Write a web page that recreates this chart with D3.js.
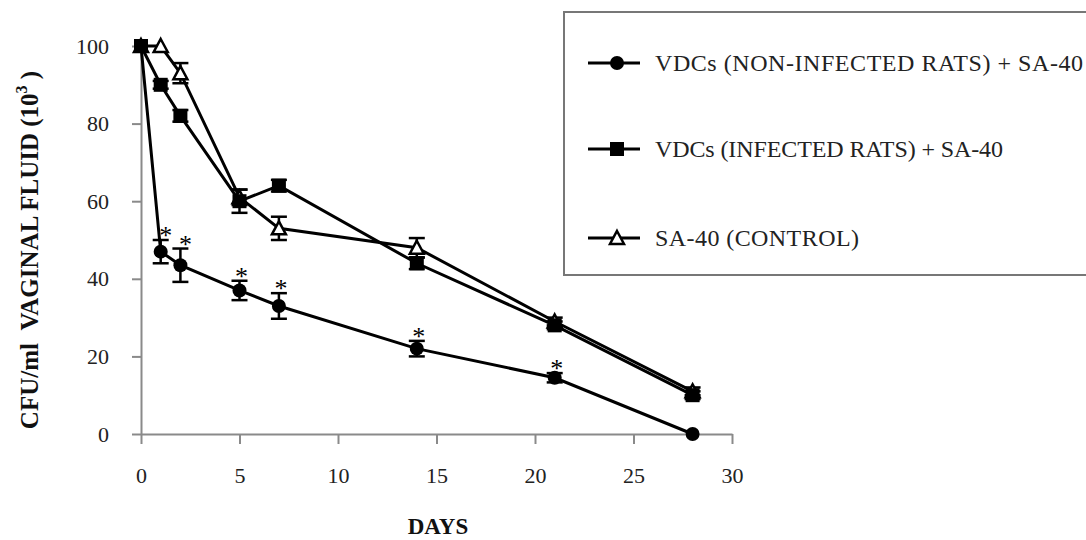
<!DOCTYPE html>
<html>
<head>
<meta charset="utf-8">
<script src="https://cdn.jsdelivr.net/npm/d3@7"></script>
<style>
  body { margin: 0; background: #fff; }
</style>
</head>
<body>
<div id="chart"></div>
<script>
// Data
const days = [0, 1, 2, 5, 7, 14, 21, 28];
const nonInfected = [100, 47, 43.5, 37, 33, 22, 14.5, 0];
const nonInfectedErr = [0, 3, 4.3, 2.5, 3.3, 2, 1.2, 0];
const infected = [100, 90, 82, 60, 64, 44, 28, 10];
const infectedErr = [0, 1, 1.5, 3, 1.5, 1.5, 1, 1];
const control = [100, 100, 93, 61, 53, 48, 29, 11];
const controlErr = [0, 0, 2.6, 2, 3, 2.5, 1, 1];
const starDays = [1, 2, 5, 7, 14, 21];
const xTicks = [0, 5, 10, 15, 20, 25, 30];
const yTicks = [0, 20, 40, 60, 80, 100];
const legendLabels = ["VDCs (NON-INFECTED RATS) + SA-40", "VDCs (INFECTED RATS) + SA-40", "SA-40 (CONTROL)"];

const fullWidth = 1086, fullHeight = 540;
const serif = "Liberation Serif";

const svg = d3.select("#chart")
    .append("svg")
    .attr("width", fullWidth)
    .attr("height", fullHeight);

// Scales
const x = d3.scaleLinear().domain([0, 30]).range([141, 732]);
const y = d3.scaleLinear().domain([0, 100]).range([434, 46]);

// Axes
const xAxis = svg.append("g")
    .attr("transform", "translate(0,434)")
    .call(d3.axisBottom(x).tickValues(xTicks).tickSize(10).tickPadding(32).tickSizeOuter(0));
const yAxis = svg.append("g")
    .attr("transform", "translate(141,0)")
    .call(d3.axisLeft(y).tickValues(yTicks).tickSize(9).tickPadding(23).tickSizeOuter(0));

[xAxis, yAxis].forEach(a => {
    a.attr("font-size", 22);
    a.selectAll("path, line").attr("stroke", "#8a8a8a").attr("stroke-width", 2);
    a.selectAll("text").attr("fill", "#222");
});
xAxis.selectAll("text").attr("dy", "0.33em");

// Axis titles
svg.append("text")
    .attr("x", 438)
    .attr("y", 534)
    .attr("text-anchor", "middle")
    .attr("font-weight", "bold")
    .attr("font-size", 23)
    .attr("fill", "#111")
    .text("DAYS");

const yTitle = svg.append("text")
    .attr("transform", "translate(38,250) rotate(-90)")
    .attr("text-anchor", "middle")
    .attr("font-weight", "bold")
    .attr("font-size", 25)
    .attr("fill", "#111");
yTitle.append("tspan").text("CFU/ml\u00a0\u00a0VAGINAL FLUID (10");
yTitle.append("tspan").attr("dy", -11).attr("font-size", 16).text("3");
yTitle.append("tspan").attr("dy", 11).text("\u00a0)");

// Series
const series = [
    { key: "nonInfected", values: nonInfected, err: nonInfectedErr, marker: "circle" },
    { key: "infected", values: infected, err: infectedErr, marker: "square" },
    { key: "control", values: control, err: controlErr, marker: "triangle" }
];

const line = d3.line()
    .x(d => x(d.day))
    .y(d => y(d.value));

series.forEach(s => {
    s.points = days.map((d, i) => ({ day: d, value: s.values[i], err: s.err[i] }));
});

// Lines
svg.selectAll(".series-line")
    .data(series)
    .join("path")
    .attr("class", "series-line")
    .attr("fill", "none")
    .attr("stroke", "#000")
    .attr("stroke-width", 3)
    .attr("d", d => line(d.points));

// Error bars
series.forEach(s => {
    const g = svg.append("g").attr("stroke", "#000").attr("stroke-width", 2.5);
    s.points.filter(p => p.err > 0).forEach(p => {
        const cx = x(p.day);
        g.append("line").attr("x1", cx).attr("x2", cx)
            .attr("y1", y(p.value - p.err)).attr("y2", y(p.value + p.err));
        [p.value - p.err, p.value + p.err].forEach(v => {
            g.append("line").attr("x1", cx - 8).attr("x2", cx + 8)
                .attr("y1", y(v)).attr("y2", y(v));
        });
    });
});

// Markers
function drawMarker(g, type, cx, cy) {
    if (type === "circle") {
        g.append("circle").attr("cx", cx).attr("cy", cy).attr("r", 7).attr("fill", "#000");
    } else if (type === "square") {
        g.append("rect").attr("x", cx - 7).attr("y", cy - 7)
            .attr("width", 14).attr("height", 14).attr("fill", "#000");
    } else {
        g.append("path")
            .attr("d", `M${cx},${cy - 7}L${cx + 7},${cy + 6}L${cx - 7},${cy + 6}Z`)
            .attr("fill", "#fff").attr("stroke", "#000").attr("stroke-width", 2.5);
    }
}

["circle", "triangle", "square"].forEach(type => {
    const s = series.find(d => d.marker === type);
    const g = svg.append("g");
    s.points.forEach(p => drawMarker(g, type, x(p.day), y(p.value)));
});

// Significance asterisks
svg.selectAll(".star")
    .data(starDays)
    .join("text")
    .attr("class", "star")
    .attr("x", d => x(d) + (d <= 2 ? 5 : 2))
    .attr("y", d => {
        const i = days.indexOf(d);
        return y(nonInfected[i] + nonInfectedErr[i]) + 4;
    })
    .attr("text-anchor", "middle")
    .attr("font-size", 26)
    .text("*");

// Legend
svg.append("rect")
    .attr("x", 564)
    .attr("y", 12)
    .attr("width", 540)
    .attr("height", 263)
    .attr("fill", "none")
    .attr("stroke", "#777")
    .attr("stroke-width", 2);

const legendY = [63, 149, 238];
const legendWidths = [428, 348, 204];
legendLabels.forEach((label, i) => {
    const g = svg.append("g");
    g.append("line")
        .attr("x1", 588).attr("x2", 640)
        .attr("y1", legendY[i]).attr("y2", legendY[i])
        .attr("stroke", "#000").attr("stroke-width", 3);
    drawMarker(g, series[i].marker, 617, legendY[i]);
    g.append("text")
        .attr("x", 655)
        .attr("y", legendY[i])
        .attr("dy", "0.33em")
        .attr("fill", "#222")
        .attr("font-size", 24)
        .attr("textLength", legendWidths[i])
        .attr("lengthAdjust", "spacing")
        .text(label);
});

// Times-like face on every text element
svg.selectAll("text, tspan")
    .attr("font-family", serif)
    .style("font-family", "'Liberation Serif', serif");
</script>
</body>
</html>
